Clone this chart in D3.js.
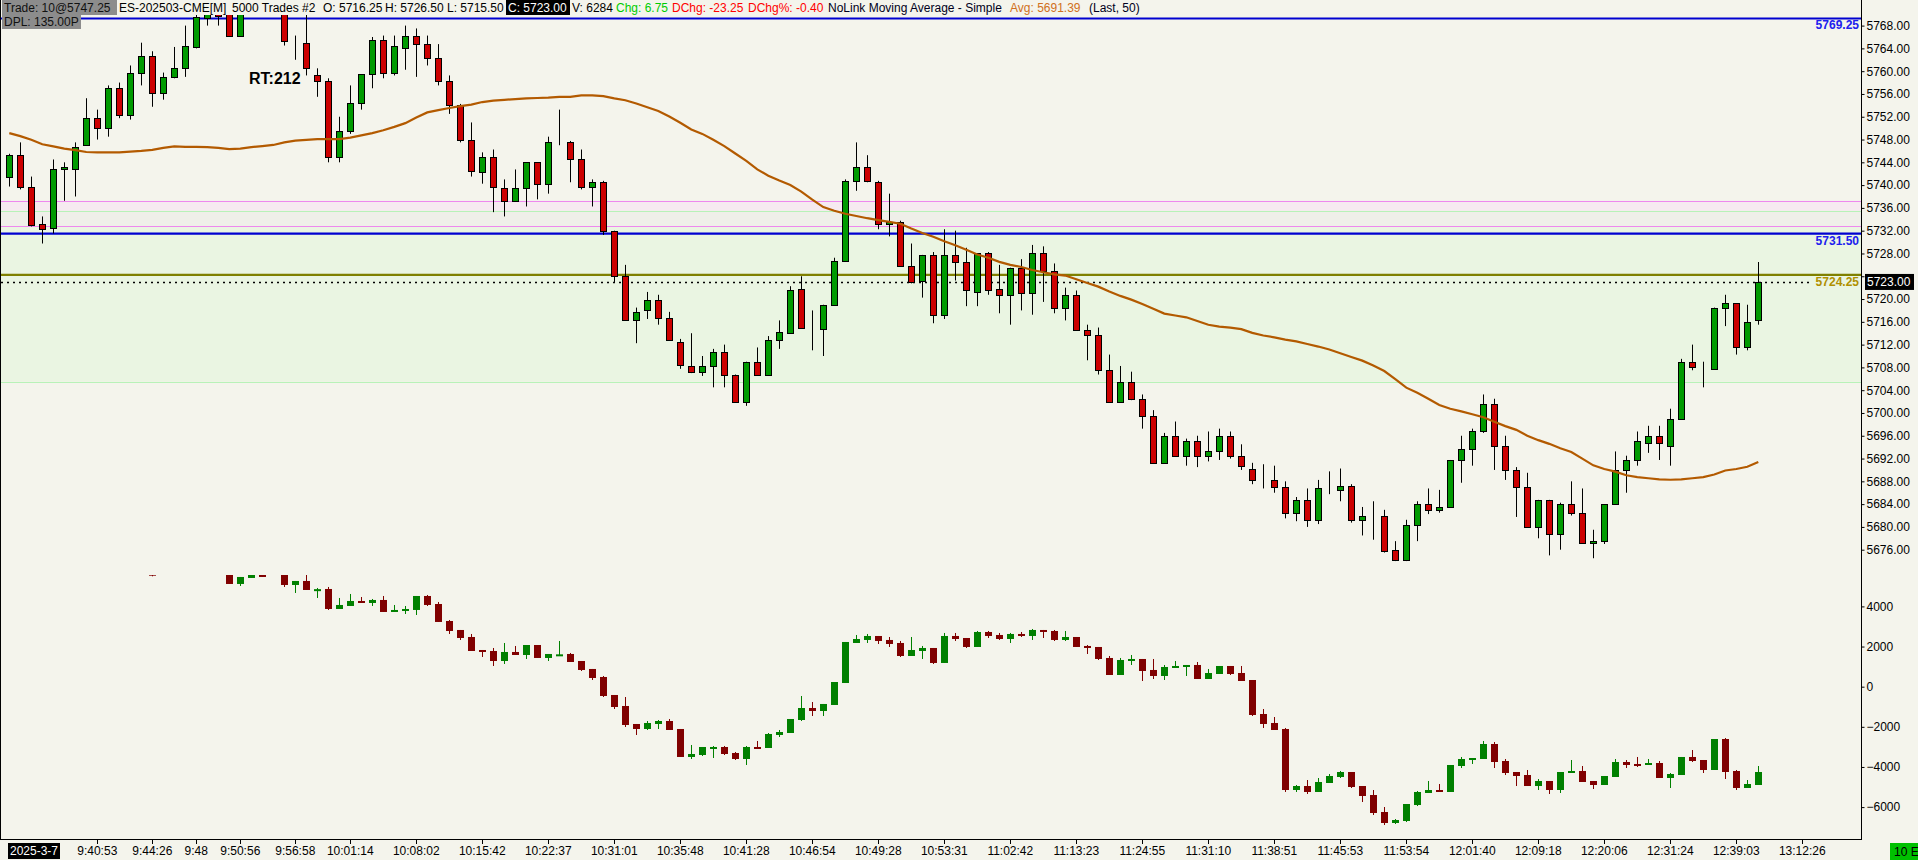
<!DOCTYPE html>
<html><head><meta charset="utf-8">
<script src="https://cdn.jsdelivr.net/npm/d3@7"></script>
<style>html,body{margin:0;padding:0;background:#f4f4ec;overflow:hidden}svg{display:block}</style>
</head><body>
<svg id="c" width="1918" height="860"></svg>
<script>
// ---------------- DATA ----------------
const upOpen = [5741.5,5745.25,5739.75,5733.25,5732.5,5742.75,5742.75,5747,5751.75,5750,5757,5752.25,5759.75,5762.75,5756.25,5759,5760.5,5764.25,5769.25,5772.75,5773.5,5766.25,null,null,null,5773.25,5765.25,5765,5759.25,5758.25,
5745,5749.5,5754.5,5759.5,5765.5,5759.75,5764,5766.25,5764.75,5762.25,5758.25,5754,5748,5742.25,5745,5739.5,5737.25,5739.5,5744,5740.25,
5747.5,5747.5,5744.5,5739.75,5740.5,5732,5724,5716.25,5718,5719.75,5716.75,5712.5,5708.25,5707.25,5708.25,5710.75,5706.75,5702,5709,5706.75,
5712.75,5714,5721.75,5715,5714.75,5719,5726.75,5740.75,5743.25,5740.5,5733.25,5733.5,5725.75,5723.25,5727.75,5717.25,5727.75,5726.5,5721.25,5728,
5721.75,5720.75,5725.5,5721,5728,5725,5718.5,5720.75,5714.5,5713.75,5707.5,5702,5705.5,5702.5,5699.5,5691.25,5696,5692.5,5695,5692.5,
5693.25,5696,5692.5,5690.25,5688.25,5688.25,5687,5682.5,5684.75,5681.25,5686.75,5686.5,5687.25,5681.25,5682,5682,5676,5674.25,5680.25,5684,
5683,5683.5,5691.75,5693.75,5696.75,5701.5,5694.25,5690,5687,5680,5684.75,5678.75,5684,5682.5,5677.25,5677.5,5684,5690,5691.75,5694.75,
5696,5694.25,5699,5709,5708,5707.75,5718.5,5719.25,5711.5,5716.25];
const upHigh = [5745.5,5747.5,5741.5,5734.5,5744.5,5744,5747.5,5755.25,5753.25,5757.5,5758,5761,5765,5763.5,5759.75,5764.25,5768,5770.5,5773.5,5774,5775,5774.5,null,null,null,5775,5766.25,5771.5,5760.5,5758.75,
5752,5757.5,5759.5,5766,5766.25,5766.25,5768,5767.5,5766.25,5764.75,5759.25,5754.25,5751,5745.75,5746.25,5741,5742.75,5744,5744,5748.5,
5753.25,5747.75,5746.25,5741,5740.75,5732,5726,5718.5,5721.25,5720.75,5717.75,5713,5714,5710,5711.25,5712,5706.75,5709,5711.5,5713.5,
5716.25,5722.25,5724,5718,5719,5727.25,5741,5747.5,5745.25,5740.75,5738.5,5733.75,5729.75,5727.75,5728.25,5732.25,5732,5729,5728,5728.25,
5726,5725.5,5727,5729.5,5729.25,5726.25,5722,5721.5,5715.5,5715,5710.25,5708.25,5707.25,5703.25,5700.5,5696.5,5698.5,5695.5,5696,5696.75,
5697.25,5696.75,5694.5,5691.25,5691,5690.75,5688,5685.25,5686.75,5688.25,5689.75,5690.25,5687.5,5683.5,5684.5,5683,5677.5,5681.25,5684.5,5686.75,
5686.5,5691.75,5696,5697.25,5703.25,5702.5,5696,5690.5,5689.5,5684.75,5684.75,5684.25,5688,5686.75,5679.5,5684,5693.25,5692.5,5696.75,5697.75,
5697.75,5700.75,5709.5,5712,5709,5718.5,5720.75,5719.25,5719,5726.5];
const upLow = [5739.75,5739.25,5732.75,5729.75,5731.5,5737.25,5738,5747,5748,5748.5,5751.75,5751.5,5757.5,5753.75,5755,5758.75,5759,5764,5768,5768,5766,5766,null,null,null,5764.5,5762,5759.25,5755.5,5744,
5744,5749,5753.25,5757,5758.75,5759.25,5760.25,5759,5761,5757.5,5752.5,5747.5,5741.5,5740.25,5735.25,5734.5,5737.25,5736.25,5737.5,5738.5,
5747,5740.5,5739.25,5736.25,5731.25,5723,5716.25,5712.25,5716.5,5715.5,5712.75,5707.75,5707,5706.5,5704.5,5704.5,5702,5701.25,5706.75,5706.75,
5711.25,5714,5715,5711,5710,5719,5726.5,5739,5740.5,5732.25,5731,5725.75,5722.75,5720.25,5715.75,5716.5,5723.25,5718.75,5718.75,5720.75,
5717.5,5715.5,5718,5717.25,5719.5,5717.5,5716.25,5714.5,5709.25,5706.75,5702,5702,5702.25,5697.25,5691.25,5691.25,5692.5,5690.75,5690.5,5691.5,
5691.75,5692,5690,5687.5,5686.75,5686,5681.5,5681,5680,5680.5,5685.75,5684.5,5680.75,5678.5,5677.75,5675.5,5674,5674,5677.5,5682.25,
5682.5,5683.5,5687.75,5690.75,5696.5,5690,5688.25,5681.75,5680,5678,5675,5676,5682,5677.25,5674.5,5677,5684,5686,5690.75,5693,
5691.75,5690.75,5699,5707.5,5704.5,5707.75,5715.25,5710.25,5711,5715.5];
const upClose = [5745.25,5739.75,5733,5732.25,5742.75,5743.25,5746.75,5751.75,5750,5757,5752.25,5759.75,5762.75,5756.25,5759,5760.5,5764.5,5769.5,5772.5,5769.75,5766.25,5773.75,null,null,null,5765.25,5765.25,5760.5,5758.25,5745,
5749.5,5754.5,5759.5,5765.5,5759.75,5764.5,5766.25,5764.75,5762.25,5758.25,5754,5748,5742.5,5745,5739.75,5737.25,5739.5,5744,5740.25,5747.5,
5747.5,5744.5,5739.75,5740.5,5732,5724,5716.25,5717.75,5719.75,5716.75,5712.75,5708.5,5707.25,5708.25,5710.75,5706.75,5702,5709,5706.75,5712.75,
5714.25,5721.5,5715,5715,5719,5726.75,5740.75,5743.25,5740.75,5733.25,5733.5,5725.75,5723,5727.75,5717.25,5727.75,5726.5,5721.5,5728,5721.5,
5720.75,5725.5,5721,5728,5725,5718.5,5720.75,5714.5,5713.75,5707.5,5702,5705.5,5702.5,5699.5,5691.25,5696,5692.5,5695,5692.5,5693.25,
5696,5692.5,5690.75,5688.25,5688.25,5687,5682.5,5684.75,5681.25,5686.75,5686.75,5687.25,5681.25,5682,5682,5675.75,5674.25,5680.25,5684,5683,
5683.5,5691.75,5693.75,5696.75,5701.5,5694.25,5690,5687,5680,5684.75,5678.75,5684,5682.5,5677.25,5677.5,5684,5690,5691.75,5695,5696,
5694.75,5699,5709,5708,5708,5718.5,5719.25,5711.5,5716,5723];

// moving average (Simple, 50), one value per bar
const maValues = [5749.12,5748.6,5747.95,5747.18,5746.79,5746.4,5746.14,5745.81,5745.75,5745.75,5745.75,5745.88,5746.01,5746.2,5746.53,5746.79,5746.72,5746.72,5746.66,5746.53,5746.33,5746.4,5746.66,5746.85,5747.05,5747.5,5747.82,
5747.95,5748.08,5748.08,5748.08,5748.34,5748.73,5749.12,5749.64,5750.23,5750.88,5751.85,5752.76,5753.15,5753.54,5753.86,5754.12,5754.58,5754.84,5754.97,5755.1,5755.23,5755.29,5755.36,5755.49,5755.49,5755.75,5755.75,
5755.62,5755.23,5754.9,5754.32,5753.67,5753.02,5752.05,5750.94,5749.77,5748.99,5747.95,5746.85,5745.55,5744.25,5742.76,5741.66,5740.81,5740.03,5738.86,5737.44,5736.14,5735.49,5734.97,5734.58,5734.19,5733.86,5733.54,5733.21,
5732.37,5731.59,5730.94,5730.16,5729.45,5728.67,5727.82,5727.24,5726.53,5726.01,5725.62,5725.1,5724.71,5724.32,5724.12,5723.47,5722.82,5722.18,5721.33,5720.55,5719.9,5719.12,5718.28,5717.44,5717.11,5716.79,5716.14,
5715.49,5715.16,5714.97,5714.71,5714.06,5713.6,5713.28,5712.89,5712.56,5712.11,5711.66,5711.14,5710.49,5709.84,5709.19,5708.34,5707.37,5705.94,5704.45,5703.54,5702.5,5701.4,5700.75,5700.29,5699.77,5699.25,5698.47,
5697.69,5697.04,5696.0,5695.23,5694.58,5693.8,5693.15,5691.98,5690.81,5690.16,5689.71,5689.06,5688.73,5688.54,5688.34,5688.28,5688.34,5688.54,5688.73,5689.19,5689.9,5690.16,5690.55,5691.39];

// lower indicator (cumulative delta candles), null = not visible
const N = null;
const cdOpen = [N,N,N,N,N,N,N,N,N,N,N,N,N,5900,N,N,N,N,N,N,5700,5117,5416,5700,N,5700,5067,5267,4830,4868,
3871,4021,4270,4170,4320,3722,3772,3822,4519,4120,3273,2825,2476,1828,1778,1280,1729,1579,2077,1430,
1579,1629,1280,882,483,-414,-962,-1859,-2108,-1859,-1710,-2108,-3503,-3404,-3038,-3005,-3304,-3603,-3005,-3055,
-2407,-2308,-1660,-1062,-1211,-912,183,2177,2327,2526,2327,2177,1529,1778,1928,1181,2526,2426,1978,2725,
2576,2376,2626,2526,2825,2775,2327,2476,2028,1978,1430,582,1280,1380,832,533,931,981,1081,383,
632,1031,682,333,-1361,-1809,-2108,-5148,-4949,-5247,-4799,-4500,-4251,-4949,-5397,-6244,-6792,-6693,-5896,-5297,
-5148,-5247,-3952,-3653,-3603,-2856,-3703,-4251,-4401,-4949,-4699,-5148,-4301,-4201,-4699,-4899,-4500,-3753,-3852,-3902,
-3803,-4550,-4401,-3503,-3653,-4151,-2607,-4201,-5048,-4899];
const cdHigh = [N,N,N,N,N,N,N,N,N,N,N,N,N,6000,N,N,N,N,N,N,5750,5466,5700,5750,N,5750,5267,5650,4918,4968,
4420,4619,4469,4370,4519,4071,4021,4519,4569,4220,3323,2825,2626,1828,1928,2177,2028,2077,2077,1629,
2277,1679,1280,882,533,-414,-514,-1859,-1710,-1660,-1610,-2108,-2905,-3005,-2955,-2955,-3254,-2955,-2706,-2308,
-2158,-1610,-464,-763,-862,233,2227,2576,2626,2526,2476,2277,2476,2028,1928,2676,2676,2426,2775,2775,
2676,2676,2725,2875,2825,2825,2775,2476,2077,1978,1529,1430,1579,1380,1380,1081,1280,1081,1230,882,
1031,1031,1031,333,-1112,-1511,-2058,-4899,-4650,-4550,-4351,-4201,-4251,-4949,-5148,-5995,-6593,-5846,-5198,-4699,
-4849,-3902,-3503,-3554,-2706,-2756,-3603,-4251,-4151,-4600,-4699,-4251,-3653,-3952,-4699,-4450,-3603,-3653,-3503,-3603,
-3703,-4301,-3503,-3155,-3653,-2607,-2557,-4151,-4650,-3952];
const cdLow = [N,N,N,N,N,N,N,N,N,N,N,N,N,5500,N,N,N,N,N,N,5117,5017,5416,5466,N,4968,4669,4818,4419,3822,
3871,4021,4170,4021,3722,3722,3622,3572,4021,3224,2626,2327,1778,1480,1031,1131,1579,1380,1430,1280,
1579,1230,782,333,-514,-1112,-2009,-2407,-2158,-2108,-2158,-3503,-3603,-3454,-3553,-3404,-3653,-3902,-3038,-3055,
-2507,-2308,-1710,-1461,-1461,-912,183,2177,2177,2127,1978,1480,1529,1380,1131,1181,2277,1928,1978,2426,
2327,2177,2476,2327,2426,2277,2277,1978,1629,1330,582,582,1081,283,383,333,931,533,383,383,
632,582,283,-1461,-2058,-2158,-5247,-5247,-5347,-5247,-4799,-4550,-5048,-5746,-6394,-6892,-6842,-6743,-5946,-5297,
-5247,-5247,-4052,-3852,-3603,-4052,-4401,-4949,-4949,-5148,-5347,-5297,-4301,-4749,-5098,-4899,-4500,-4052,-4002,-3902,
-4550,-5048,-4401,-3753,-4301,-4151,-4600,-5148,-5048,-4899];
const cdClose = [N,N,N,N,N,N,N,N,N,N,N,N,N,5530,N,N,N,N,N,N,5117,5466,5650,5466,N,5067,5267,4818,4860,3871,
4071,4270,4170,4320,3722,3822,3871,4519,4071,3224,2775,2426,1778,1729,1280,1729,1579,2077,1430,1629,
1612,1230,832,433,-464,-1012,-1909,-2108,-1809,-1710,-2158,-3503,-3354,-3005,-3005,-3354,-3603,-3005,-3038,-2357,
-2258,-1610,-1062,-1211,-862,233,2227,2376,2526,2277,2127,1529,1828,1928,1181,2526,2376,1978,2725,2526,
2376,2626,2526,2825,2725,2327,2476,1978,1928,1380,582,1330,1380,782,533,981,1031,1081,383,682,
1031,632,283,-1411,-1859,-2158,-5148,-4949,-5247,-4749,-4450,-4251,-4998,-5447,-6294,-6792,-6643,-5846,-5247,-5148,
-5247,-3902,-3603,-3554,-2856,-3753,-4301,-4450,-4949,-4699,-5148,-4251,-4201,-4749,-4899,-4450,-3753,-3902,-3885,-3803,
-4550,-4351,-3503,-3703,-4151,-2607,-4251,-5048,-4849,-4251];

const priceTicks = [5768,5764,5760,5756,5752,5748,5744,5740,5736,5732,5728,5724,5720,5716,5712,5708,5704,5700,5696,5692,5688,5684,5680,5676];
const cdTicks = [4000,2000,0,-2000,-4000,-6000];
const timeLabels = ["9:40:53","9:44:26","9:48","9:50:56","9:56:58","10:01:14","10:08:02","10:15:42","10:22:37","10:31:01","10:35:48","10:41:28","10:46:54","10:49:28","10:53:31","11:02:42","11:13:23","11:24:55","11:31:10","11:38:51","11:45:53","11:53:54","12:01:40","12:09:18","12:20:06","12:31:24","12:39:03","13:12:26"];
const timeLabelBars = [8,13,17,21,26,31,37,43,49,55,61,67,73,79,85,91,97,103,109,115,121,127,133,139,145,151,157,163];
const levelLines = [5769.25, 5731.50, 5724.25];
const lastPrice = 5723.00;
const pinkZone = [5737.25, 5732.75];
const greenZone = [5735.5, 5705.5];
const headerParts = ["Trade: 10@5747.25","ES-202503-CME[M]","5000 Trades #2","O: 5716.25","H: 5726.50","L: 5715.50","C: 5723.00","V: 6284","Chg: 6.75","DChg: -23.25","DChg%: -0.40","NoLink Moving Average - Simple","Avg: 5691.39","(Last, 50)"];

// ---------------- LAYOUT ----------------
const FONT = "'Liberation Sans', Arial, sans-serif";
const AX = 1861, BOTTOM = 839;
const svg = d3.select("#c");
const nBars = upOpen.length;
const x = d3.scaleLinear().domain([0, nBars - 1]).range([9.3, 1758.3]);
const yP = d3.scaleLinear().domain([5676, 5768]).range([549.7, 25.6]);
const yD = d3.scaleLinear().domain([-6000, 4000]).range([807.1, 606.4]);

const defs = svg.append("defs");
defs.append("clipPath").attr("id","cu").append("rect").attr("x",0).attr("y",15).attr("width",AX).attr("height",555);
defs.append("clipPath").attr("id","cl").append("rect").attr("x",0).attr("y",575).attr("width",AX).attr("height",BOTTOM-575);

svg.append("rect").attr("width",1918).attr("height",860).attr("fill","#f4f4ec");

// zones
const zg = svg.append("g");
const yPinkTop = yP(pinkZone[0]), yPinkBot = yP(pinkZone[1]);
const yGrTop = yP(greenZone[0]), yGrBot = yP(greenZone[1]);
zg.append("rect").attr("x",0).attr("width",AX).attr("y",yPinkTop).attr("height",yGrTop-yPinkTop).attr("fill","#f6eaf0");
zg.append("rect").attr("x",0).attr("width",AX).attr("y",yGrTop).attr("height",yPinkBot-yGrTop).attr("fill","#efefe9");
zg.append("rect").attr("x",0).attr("width",AX).attr("y",yPinkBot).attr("height",yGrBot-yPinkBot).attr("fill","#eaf5e2");
[yGrTop, yGrBot].forEach(v => zg.append("line").attr("x1",0).attr("x2",AX).attr("y1",Math.round(v)+0.5).attr("y2",Math.round(v)+0.5).attr("stroke","#b8f2b8").attr("stroke-width",1));
[yPinkTop, yPinkBot].forEach(v => zg.append("line").attr("x1",0).attr("x2",AX).attr("y1",Math.round(v)+0.5).attr("y2",Math.round(v)+0.5).attr("stroke","#ee88ee").attr("stroke-width",1));

// level lines
const lvlColors = ["#0000d0","#0000d0","#7f8000"];
const lvlTextColors = ["#2020ee","#2020ee","#b09000"];
levelLines.forEach((p,k) => {
  const yy = yP(p);
  svg.append("line").attr("x1",0).attr("x2",AX).attr("y1",yy).attr("y2",yy).attr("stroke",lvlColors[k]).attr("stroke-width",2.2);
});
// dotted last price line
svg.append("line").attr("x1",1).attr("x2",1812).attr("y1",Math.round(yP(lastPrice))+0.5).attr("y2",Math.round(yP(lastPrice))+0.5)
  .attr("stroke","#000").attr("stroke-width",1.6).attr("stroke-dasharray","2,4");
levelLines.forEach((p,k) => {
  svg.append("text").attr("x",AX-2).attr("y",yP(p)+11).attr("text-anchor","end")
    .attr("font-family",FONT).attr("font-size","12px").attr("font-weight","bold").attr("fill",lvlTextColors[k]).text(d3.format(".2f")(p));
});

// upper candles
const ug = svg.append("g").attr("clip-path","url(#cu)");
d3.range(nBars).forEach(i => {
  if (upOpen[i] == null) return;
  const cx = Math.round(x(i)) + 0.5;
  const o = upOpen[i], c = upClose[i];
  const col = c > o ? "#009a00" : (c < o ? "#cc0000" : "#000");
  ug.append("line").attr("x1",cx).attr("x2",cx).attr("y1",yP(upHigh[i])).attr("y2",yP(upLow[i])).attr("stroke","#000").attr("stroke-width",1);
  const yt = Math.round(yP(Math.max(o,c))), yb = Math.round(yP(Math.min(o,c)));
  ug.append("rect").attr("x",cx-3).attr("y",yt+0.5).attr("width",6).attr("height",Math.max(0,yb-yt))
    .attr("fill",col).attr("stroke","#000").attr("stroke-width",1);
});

// moving average
ug.append("path").datum(maValues).attr("fill","none").attr("stroke","#b35a00").attr("stroke-width",2.2)
  .attr("d", d3.line().x((d,i)=>x(i)).y(d=>yP(d)));

// lower candles
const lg = svg.append("g").attr("clip-path","url(#cl)");
d3.range(nBars).forEach(i => {
  if (cdOpen[i] == null) return;
  const cx = Math.round(x(i));
  const o = cdOpen[i], c = cdClose[i];
  const col = c >= o ? "#008000" : "#800000";
  lg.append("rect").attr("x",cx).attr("y",yD(cdHigh[i])).attr("width",1).attr("height",Math.max(1,yD(cdLow[i])-yD(cdHigh[i]))).attr("fill",col);
  const yt = yD(Math.max(o,c)), yb = yD(Math.min(o,c));
  lg.append("rect").attr("x",cx-3).attr("y",yt).attr("width",7).attr("height",Math.max(2,yb-yt)).attr("fill",col);
});

// RT label
svg.append("text").attr("x",249).attr("y",84).attr("font-family",FONT).attr("font-size","16px").attr("font-weight","bold").attr("fill","#000").text("RT:212");

// frame
svg.append("line").attr("x1",0.5).attr("x2",0.5).attr("y1",0).attr("y2",BOTTOM).attr("stroke","#000");
svg.append("line").attr("x1",AX+0.5).attr("x2",AX+0.5).attr("y1",0).attr("y2",BOTTOM+1).attr("stroke","#000");
svg.append("line").attr("x1",0).attr("x2",AX+1).attr("y1",BOTTOM+0.5).attr("y2",BOTTOM+0.5).attr("stroke","#000");

// right axes
const pa = svg.append("g").attr("transform",`translate(${AX+0.5},0)`)
  .call(d3.axisRight(yP).tickValues(priceTicks).tickSize(3).tickPadding(2).tickFormat(d3.format(".2f")));
const da = svg.append("g").attr("transform",`translate(${AX+0.5},0)`)
  .call(d3.axisRight(yD).tickValues(cdTicks).tickSize(3).tickPadding(2).tickFormat(d3.format("d")));
[pa,da].forEach(a => {
  a.select(".domain").remove();
  a.selectAll("text").attr("font-family",FONT).attr("font-size","12px").attr("fill","#000");
  a.selectAll("line").attr("stroke","#000");
});
// the tick label hidden under the last-price box is not drawn
pa.selectAll(".tick").filter(d => Math.abs(yP(d) - yP(lastPrice)) < 10).select("text").remove();
// last price box
const lpY = yP(lastPrice);
svg.append("rect").attr("x",AX+4).attr("y",lpY-8).attr("width",49).attr("height",16).attr("fill","#000");
svg.append("text").attr("x",AX+6).attr("y",lpY+4.5).attr("font-family",FONT).attr("font-size","12px").attr("fill","#fff").text(d3.format(".2f")(lastPrice));

// time axis
const tg = svg.append("g");
tg.append("rect").attr("x",8).attr("y",843).attr("width",52).attr("height",16).attr("fill","#000");
tg.append("text").attr("x",10).attr("y",855).attr("font-family",FONT).attr("font-size","12px").attr("fill","#fff").text("2025-3-7");
timeLabels.forEach((t,k) => {
  const xx = x(timeLabelBars[k]);
  tg.append("line").attr("x1",Math.round(xx)+0.5).attr("x2",Math.round(xx)+0.5).attr("y1",BOTTOM).attr("y2",BOTTOM+5).attr("stroke","#000");
  tg.append("text").attr("x",xx).attr("y",855).attr("text-anchor","middle").attr("font-family",FONT).attr("font-size","12px").attr("fill","#000").text(t);
});
tg.append("rect").attr("x",1890).attr("y",843).attr("width",28).attr("height",17).attr("fill","#00c000");
tg.append("text").attr("x",1894).attr("y",856).attr("font-family",FONT).attr("font-size","12px").attr("fill","#000").text("10 E");

// header
const hx = [4,119,232,323,385,447,508,572,616,672,748,828,1010,1089];
const hc = ["#111","#000","#000","#000","#000","#000","#fff","#000","#00cc00","#ff0000","#ff0000","#000020","#d07020","#000020"];
svg.append("rect").attr("x",2).attr("y",0).attr("width",115).attr("height",15).attr("fill","#8c8c8c");
svg.append("rect").attr("x",506).attr("y",0).attr("width",64).attr("height",15).attr("fill","#000");
svg.append("rect").attr("x",2).attr("y",15).attr("width",79).attr("height",14).attr("fill","#8c8c8c");
headerParts.forEach((t,k) => {
  svg.append("text").attr("x",hx[k]).attr("y",12).attr("font-family",FONT).attr("font-size","12px").attr("fill",hc[k]).text(t);
});
svg.append("text").attr("x",4).attr("y",26).attr("font-family",FONT).attr("font-size","12px").attr("fill","#111").text("DPL: 135.00P");
</script>
</body></html>
